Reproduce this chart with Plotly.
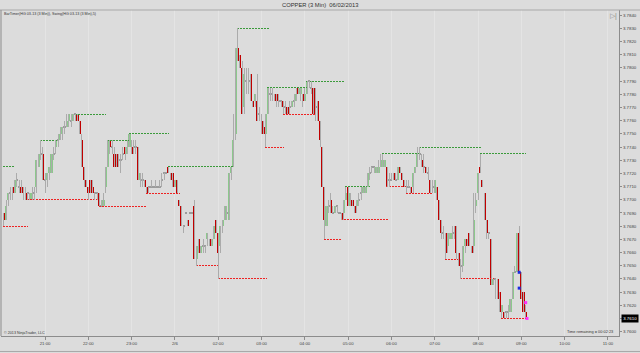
import plotly.graph_objects as go

# ---------------- data (3-minute bars, HG 03-13) ----------------
opens = [3.7690,3.7685,3.7700,3.7705,3.7710,3.7705,3.7715,3.7710,3.7710,3.7710,
         3.7705,3.7705,3.7700,3.7700,3.7705,3.7710,3.7725,3.7735,3.7735,3.7715,
         3.7715,3.7720,3.7720,3.7735,3.7740,3.7745,3.7745,3.7750,3.7755,3.7755,
         3.7760,3.7760,3.7760,3.7765,3.7765,3.7760,3.7745,3.7725,3.7715,3.7710,
         3.7715,3.7710,3.7705,3.7705,3.7705,3.7695,3.7695,3.7710,3.7725,3.7745,
         3.7740,3.7735,3.7735,3.7730,3.7730,3.7735,3.7740,3.7735,3.7740,3.7740,
         3.7740,3.7740,3.7740,3.7715,3.7715,3.7715,3.7710,3.7710,3.7710,3.7710,
         3.7710,3.7710,3.7710,3.7715,3.7720,3.7720,3.7725,3.7720,3.7720,3.7710,
         3.7715,3.7700,3.7695,3.7680,3.7690,3.7685,3.7690,3.7690,3.7695,3.7655,
         3.7670,3.7660,3.7665,3.7665,3.7670,3.7670,3.7665,3.7670,3.7685,3.7675,
         3.7665,3.7680,3.7685,3.7690,3.7685,3.7720,3.7725,3.7750,3.7815,3.7810,
         3.7800,3.7770,3.7790,3.7790,3.7795,3.7775,3.7775,3.7775,3.7765,3.7760,
         3.7755,3.7750,3.7765,3.7780,3.7780,3.7780,3.7780,3.7775,3.7775,3.7775,
         3.7770,3.7770,3.7770,3.7770,3.7775,3.7775,3.7785,3.7780,3.7780,3.7775,
         3.7780,3.7790,3.7785,3.7785,3.7770,3.7775,3.7760,3.7740,3.7710,3.7680,
         3.7695,3.7700,3.7690,3.7690,3.7695,3.7690,3.7690,3.7690,3.7700,3.7710,
         3.7695,3.7700,3.7695,3.7695,3.7700,3.7705,3.7705,3.7705,3.7710,3.7720,
         3.7725,3.7725,3.7720,3.7720,3.7725,3.7725,3.7725,3.7725,3.7715,3.7715,
         3.7720,3.7715,3.7715,3.7725,3.7720,3.7715,3.7710,3.7710,3.7710,3.7710,
         3.7720,3.7725,3.7735,3.7730,3.7725,3.7725,3.7720,3.7715,3.7710,3.7705,
         3.7710,3.7700,3.7685,3.7675,3.7675,3.7665,3.7670,3.7670,3.7675,3.7680,
         3.7660,3.7650,3.7650,3.7665,3.7670,3.7675,3.7665,3.7665,3.7695,3.7705,
         3.7725,3.7715,3.7705,3.7685,3.7675,3.7670,3.7635,3.7640,3.7640,3.7630,
         3.7615,3.7615,3.7615,3.7615,3.7615,3.7625,3.7645,3.7645,3.7675,3.7645,
         3.7630,3.7615]
highs = [3.7690,3.7700,3.7705,3.7710,3.7710,3.7715,3.7720,3.7715,3.7715,3.7710,
         3.7710,3.7705,3.7705,3.7710,3.7710,3.7730,3.7735,3.7745,3.7740,3.7720,
         3.7720,3.7725,3.7735,3.7740,3.7745,3.7750,3.7755,3.7755,3.7760,3.7765,
         3.7765,3.7765,3.7765,3.7765,3.7765,3.7760,3.7750,3.7725,3.7715,3.7710,
         3.7715,3.7715,3.7705,3.7705,3.7705,3.7700,3.7705,3.7725,3.7745,3.7745,
         3.7745,3.7740,3.7735,3.7735,3.7735,3.7740,3.7740,3.7745,3.7750,3.7745,
         3.7745,3.7745,3.7740,3.7720,3.7720,3.7715,3.7710,3.7710,3.7715,3.7710,
         3.7715,3.7710,3.7715,3.7720,3.7720,3.7720,3.7725,3.7720,3.7720,3.7715,
         3.7715,3.7700,3.7695,3.7680,3.7690,3.7685,3.7690,3.7690,3.7700,3.7665,
         3.7670,3.7665,3.7670,3.7665,3.7675,3.7670,3.7670,3.7680,3.7685,3.7675,
         3.7680,3.7685,3.7695,3.7695,3.7720,3.7725,3.7765,3.7815,3.7830,3.7810,
         3.7805,3.7800,3.7800,3.7800,3.7795,3.7775,3.7780,3.7795,3.7770,3.7765,
         3.7760,3.7765,3.7785,3.7785,3.7785,3.7780,3.7780,3.7780,3.7775,3.7775,
         3.7775,3.7770,3.7775,3.7775,3.7780,3.7785,3.7785,3.7785,3.7780,3.7785,
         3.7790,3.7790,3.7790,3.7785,3.7785,3.7775,3.7760,3.7740,3.7710,3.7695,
         3.7700,3.7705,3.7695,3.7695,3.7695,3.7690,3.7690,3.7700,3.7710,3.7710,
         3.7705,3.7700,3.7695,3.7700,3.7705,3.7710,3.7710,3.7710,3.7720,3.7725,
         3.7725,3.7725,3.7725,3.7730,3.7735,3.7735,3.7730,3.7725,3.7720,3.7720,
         3.7720,3.7720,3.7725,3.7725,3.7720,3.7715,3.7715,3.7715,3.7710,3.7720,
         3.7725,3.7740,3.7740,3.7735,3.7735,3.7725,3.7725,3.7715,3.7715,3.7715,
         3.7710,3.7700,3.7685,3.7680,3.7675,3.7675,3.7675,3.7680,3.7680,3.7680,
         3.7660,3.7655,3.7665,3.7670,3.7670,3.7675,3.7665,3.7705,3.7705,3.7720,
         3.7735,3.7715,3.7705,3.7685,3.7675,3.7670,3.7640,3.7640,3.7640,3.7630,
         3.7620,3.7615,3.7615,3.7620,3.7625,3.7645,3.7650,3.7675,3.7680,3.7645,
         3.7630,3.7620]
lows = [3.7680,3.7685,3.7695,3.7700,3.7700,3.7705,3.7710,3.7705,3.7705,3.7700,
        3.7700,3.7700,3.7700,3.7700,3.7700,3.7705,3.7725,3.7730,3.7715,3.7705,
        3.7710,3.7715,3.7720,3.7730,3.7735,3.7740,3.7745,3.7745,3.7750,3.7755,
        3.7755,3.7755,3.7760,3.7760,3.7760,3.7750,3.7725,3.7710,3.7710,3.7700,
        3.7705,3.7705,3.7700,3.7700,3.7695,3.7695,3.7695,3.7705,3.7725,3.7735,
        3.7735,3.7725,3.7725,3.7725,3.7720,3.7730,3.7730,3.7735,3.7740,3.7735,
        3.7735,3.7735,3.7715,3.7710,3.7710,3.7710,3.7705,3.7705,3.7710,3.7710,
        3.7710,3.7710,3.7710,3.7710,3.7715,3.7720,3.7720,3.7715,3.7710,3.7710,
        3.7705,3.7695,3.7680,3.7675,3.7690,3.7680,3.7690,3.7690,3.7655,3.7650,
        3.7660,3.7660,3.7660,3.7660,3.7665,3.7665,3.7665,3.7670,3.7675,3.7640,
        3.7660,3.7675,3.7685,3.7685,3.7685,3.7715,3.7725,3.7745,3.7805,3.7800,
        3.7765,3.7765,3.7780,3.7780,3.7775,3.7770,3.7770,3.7760,3.7760,3.7750,
        3.7750,3.7740,3.7765,3.7775,3.7775,3.7775,3.7770,3.7770,3.7770,3.7765,
        3.7765,3.7765,3.7765,3.7770,3.7770,3.7775,3.7780,3.7775,3.7770,3.7775,
        3.7780,3.7785,3.7780,3.7765,3.7760,3.7760,3.7740,3.7710,3.7670,3.7680,
        3.7690,3.7690,3.7690,3.7690,3.7690,3.7690,3.7685,3.7685,3.7700,3.7695,
        3.7695,3.7695,3.7690,3.7690,3.7695,3.7700,3.7705,3.7705,3.7710,3.7715,
        3.7720,3.7720,3.7720,3.7720,3.7725,3.7725,3.7725,3.7710,3.7710,3.7715,
        3.7715,3.7715,3.7715,3.7720,3.7715,3.7710,3.7705,3.7710,3.7705,3.7705,
        3.7720,3.7725,3.7730,3.7725,3.7720,3.7720,3.7715,3.7705,3.7705,3.7705,
        3.7700,3.7685,3.7670,3.7670,3.7655,3.7660,3.7670,3.7670,3.7670,3.7655,
        3.7650,3.7640,3.7645,3.7660,3.7665,3.7665,3.7660,3.7660,3.7690,3.7700,
        3.7720,3.7710,3.7685,3.7670,3.7670,3.7635,3.7635,3.7625,3.7625,3.7615,
        3.7610,3.7610,3.7610,3.7610,3.7615,3.7625,3.7645,3.7645,3.7645,3.7625,
        3.7615,3.7610]
closes = [3.7685,3.7695,3.7705,3.7705,3.7705,3.7715,3.7715,3.7710,3.7705,3.7705,
          3.7700,3.7705,3.7705,3.7705,3.7705,3.7730,3.7735,3.7735,3.7715,3.7715,
          3.7720,3.7725,3.7735,3.7735,3.7745,3.7745,3.7750,3.7755,3.7755,3.7760,
          3.7765,3.7760,3.7765,3.7765,3.7760,3.7750,3.7725,3.7715,3.7710,3.7705,
          3.7705,3.7705,3.7705,3.7705,3.7695,3.7695,3.7700,3.7725,3.7745,3.7740,
          3.7740,3.7725,3.7725,3.7730,3.7730,3.7735,3.7735,3.7740,3.7750,3.7735,
          3.7740,3.7740,3.7715,3.7720,3.7715,3.7710,3.7705,3.7710,3.7710,3.7710,
          3.7710,3.7710,3.7710,3.7715,3.7720,3.7720,3.7720,3.7715,3.7710,3.7715,
          3.7705,3.7695,3.7680,3.7680,3.7690,3.7680,3.7690,3.7690,3.7655,3.7665,
          3.7660,3.7665,3.7665,3.7665,3.7675,3.7665,3.7670,3.7680,3.7675,3.7660,
          3.7680,3.7685,3.7695,3.7690,3.7720,3.7725,3.7745,3.7815,3.7805,3.7800,
          3.7765,3.7795,3.7790,3.7790,3.7775,3.7770,3.7780,3.7760,3.7765,3.7750,
          3.7750,3.7765,3.7785,3.7780,3.7780,3.7775,3.7775,3.7775,3.7775,3.7770,
          3.7770,3.7765,3.7770,3.7775,3.7775,3.7780,3.7780,3.7785,3.7775,3.7780,
          3.7790,3.7790,3.7785,3.7765,3.7770,3.7760,3.7745,3.7710,3.7685,3.7695,
          3.7695,3.7690,3.7690,3.7695,3.7695,3.7690,3.7685,3.7700,3.7705,3.7695,
          3.7705,3.7695,3.7690,3.7700,3.7700,3.7705,3.7710,3.7710,3.7720,3.7720,
          3.7725,3.7725,3.7725,3.7725,3.7730,3.7730,3.7730,3.7710,3.7715,3.7715,
          3.7715,3.7715,3.7725,3.7720,3.7715,3.7710,3.7710,3.7710,3.7705,3.7720,
          3.7725,3.7735,3.7735,3.7725,3.7725,3.7720,3.7720,3.7705,3.7710,3.7715,
          3.7700,3.7685,3.7675,3.7675,3.7660,3.7675,3.7675,3.7675,3.7675,3.7660,
          3.7650,3.7650,3.7665,3.7670,3.7665,3.7665,3.7660,3.7685,3.7700,3.7720,
          3.7720,3.7710,3.7685,3.7675,3.7675,3.7635,3.7640,3.7640,3.7625,3.7615,
          3.7620,3.7610,3.7615,3.7615,3.7625,3.7645,3.7645,3.7675,3.7645,3.7625,
          3.7615,3.7610]

# Swing(5) indicator levels: price, first bar, last bar
swing_high_levels = [3.7725, 3.7745, 3.7765, 3.7745, 3.7750, 3.7725, 3.7830,
                     3.7785, 3.7790, 3.7710, 3.7735, 3.7740, 3.7735]
swing_high_from = [0, 17, 33, 48, 58, 76, 108, 122, 140, 158, 175, 192, 220]
swing_high_to = [5, 25, 47, 58, 76, 106, 122, 141, 157, 169, 192, 220, 241]

swing_low_levels = [3.7680, 3.7700, 3.7695, 3.7705, 3.7650, 3.7640, 3.7740,
                    3.7765, 3.7670, 3.7685, 3.7710, 3.7705, 3.7655, 3.7640, 3.7610]
swing_low_from = [0, 11, 44, 66, 89, 99, 121, 129, 148, 156, 177, 186, 204, 211, 230]
swing_low_to = [11, 44, 66, 81, 99, 121, 129, 144, 156, 177, 186, 198, 211, 226, 241]

# small execution-style markers near the end
blue_marker_bars = [238, 238]
blue_marker_prices = [3.7645, 3.7633]
pink_marker_bars = [241, 241.6]
pink_marker_prices = [3.7622, 3.7610]

tick_labels = ["21:00", "22:00", "23:00", "2/6", "02:00", "03:00", "04:00", "05:00",
               "06:00", "07:00", "08:00", "09:00", "10:00", "11:00"]
first_tick_bar = 19
bars_per_hour = 20
tick_bars = [first_tick_bar + bars_per_hour * k for k in range(len(tick_labels))]

time_remaining = "00:02:23"

# ---------------- figure ----------------
n = len(opens)
bars = list(range(n))

fig = go.Figure()

def seg_xy(levels, x0s, x1s):
    xs, ys = [], []
    for lv, a, b in zip(levels, x0s, x1s):
        xs += [a - 0.3, b + 0.3, None]
        ys += [lv, lv, None]
    return xs, ys

hx, hy = seg_xy(swing_high_levels, swing_high_from, swing_high_to)
lx, ly = seg_xy(swing_low_levels, swing_low_from, swing_low_to)
fig.add_trace(go.Scatter(x=hx, y=hy, mode="lines", hoverinfo="skip",
                         line=dict(color="#3a9a3a", width=1, dash="2px,1px")))
fig.add_trace(go.Scatter(x=lx, y=ly, mode="lines", hoverinfo="skip",
                         line=dict(color="#ee2222", width=1, dash="2px,1px")))

# wicks
wx, wy = [], []
for i in bars:
    wx += [i, i, None]
    wy += [lows[i], highs[i], None]
fig.add_trace(go.Scatter(x=wx, y=wy, mode="lines", hoverinfo="skip",
                         line=dict(color="#ababab", width=1)))

# bodies
up_x, up_b, up_h = [], [], []
dn_x, dn_b, dn_h = [], [], []
dj_x, dj_b, dj_h = [], [], []
doji_h = 0.00008
for i in bars:
    o, c = opens[i], closes[i]
    if c > o:
        up_x.append(i); up_b.append(o); up_h.append(c - o)
    elif c < o:
        dn_x.append(i); dn_b.append(c); dn_h.append(o - c)
    else:
        dj_x.append(i); dj_b.append(o - doji_h / 2); dj_h.append(doji_h)

bw = 0.96
fig.add_trace(go.Bar(x=up_x, y=up_h, base=up_b, width=bw, hoverinfo="skip",
                     marker=dict(color="#8cc88c", line=dict(width=0))))
fig.add_trace(go.Bar(x=dn_x, y=dn_h, base=dn_b, width=bw, hoverinfo="skip",
                     marker=dict(color="#c00000", line=dict(width=0))))
fig.add_trace(go.Bar(x=dj_x, y=dj_h, base=dj_b, width=bw, hoverinfo="skip",
                     marker=dict(color="#9c9c9c", line=dict(width=0))))

fig.add_trace(go.Scatter(x=blue_marker_bars, y=blue_marker_prices, mode="markers",
                         hoverinfo="skip",
                         marker=dict(symbol="square", size=3, color="#1a2ee0")))
fig.add_trace(go.Scatter(x=pink_marker_bars, y=pink_marker_prices, mode="markers",
                         hoverinfo="skip",
                         marker=dict(symbol="square", size=3, color="#ff30ff")))

font_family = "Liberation Sans, Arial, sans-serif"
fig.update_layout(
    width=640, height=353,
    margin=dict(l=1, r=21, t=10, b=17),
    paper_bgcolor="#dcdcdc", plot_bgcolor="#dcdcdc",
    showlegend=False, barmode="overlay", bargap=0,
    font=dict(family=font_family, color="#3a3a3a"),
    xaxis=dict(range=[-1.34, 284.1], tickvals=tick_bars, ticktext=tick_labels,
               ticks="outside", ticklen=3, tickcolor="#8c8c8c", tickwidth=1,
               showline=True, linecolor="#8c8c8c", linewidth=1,
               showgrid=True, gridcolor="#e4e4e4", gridwidth=1,
               zeroline=False, tickfont=dict(size=4.3, color="#444444")),
    yaxis=dict(side="right", range=[3.75967, 3.78439], dtick=0.001, tick0=3.76,
               tickformat=".4f", ticks="outside", ticklen=2, tickcolor="#8c8c8c",
               showline=True, linecolor="#8c8c8c", linewidth=1,
               showgrid=False, zeroline=False,
               tickfont=dict(size=4.4, color="#444444")),
)

fig.add_annotation(text="COPPER (3 Min)  06/02/2013", xref="paper", yref="paper",
                   x=0.516, y=1.0155, xanchor="center", yanchor="middle",
                   showarrow=False, font=dict(size=5.8, color="#333333"))
fig.add_annotation(text="BarTimer(HG 03-13 (3 Min)), Swing(HG 03-13 (3 Min),5)",
                   xref="paper", yref="paper", x=0.0016, y=0.9877,
                   xanchor="left", yanchor="middle", showarrow=False,
                   font=dict(size=3.7, color="#333333"))
fig.add_annotation(text="© 2013 NinjaTrader, LLC", xref="paper", yref="paper",
                   x=0.0016, y=0.0085, xanchor="left", yanchor="middle",
                   showarrow=False, font=dict(size=3.7, color="#333333"))
fig.add_annotation(text="Time remaining = " + time_remaining, xref="paper", yref="paper",
                   x=0.9935, y=0.0125, xanchor="right", yanchor="middle",
                   showarrow=False, font=dict(size=3.9, color="#333333"))
fig.add_annotation(text="%.4f" % closes[-1], xref="paper", yref="y",
                   x=1.0025, y=closes[-1], xanchor="left", yanchor="middle",
                   showarrow=False, bgcolor="#000000", borderpad=1.2,
                   font=dict(size=4.4, color="#ffffff"))
fig.add_annotation(text="▷|", xref="paper", yref="paper", x=0.991, y=0.982,
                   xanchor="center", yanchor="middle", showarrow=False,
                   font=dict(size=7, color="#8a8a8a"))

# frame lines
fig.add_shape(type="line", xref="paper", yref="paper", x0=-0.01, x1=1.04, y0=1, y1=1,
              line=dict(color="#a8a8a8", width=1))
fig.add_shape(type="line", xref="paper", yref="paper", x0=0, x1=0, y0=0, y1=1,
              line=dict(color="#8c8c8c", width=1))
fig.add_shape(type="line", xref="paper", yref="paper", x0=-0.01, x1=1.04,
              y0=-0.0475, y1=-0.0475, line=dict(color="#a8a8a8", width=1))

# crisp, pixel-aligned rendering of the thin line work (like the GDI original)
crisp_js = (
    "var gd=document.getElementById('{plot_id}');"
    "gd.querySelectorAll('.scatterlayer path.js-line').forEach(function(p){"
    "p.style.shapeRendering='crispEdges';});"
)
fig.write_html("out.html", post_script=crisp_js)
